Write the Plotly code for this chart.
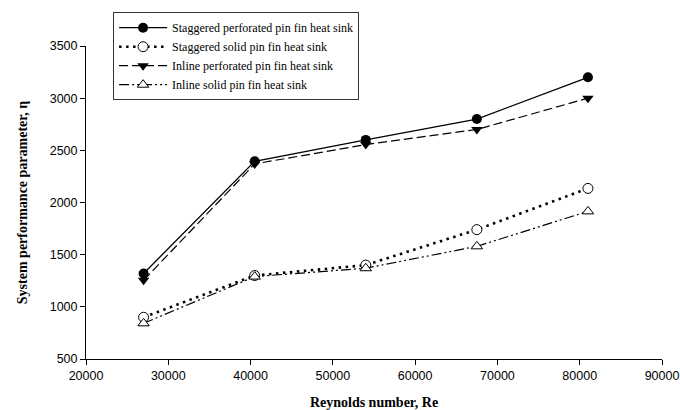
import plotly.graph_objects as go

re_vals = [27000, 40500, 54000, 67500, 81000]
staggered_perforated = [1320, 2395, 2600, 2800, 3200]
staggered_solid = [900, 1300, 1400, 1740, 2135]
inline_perforated = [1255, 2370, 2555, 2700, 3000]
inline_solid = [842, 1290, 1370, 1580, 1915]

names = [
    "Staggered perforated pin fin heat sink",
    "Staggered solid pin fin heat sink",
    "Inline perforated pin fin heat sink",
    "Inline solid pin fin heat sink",
]

fig = go.Figure()
fig.add_trace(go.Scatter(
    x=re_vals, y=staggered_perforated, name=names[0], mode="lines+markers",
    line=dict(color="black", width=1.3, dash="solid"),
    marker=dict(symbol="circle", size=10, color="black"),
))
fig.add_trace(go.Scatter(
    x=re_vals, y=staggered_solid, name=names[1], mode="lines+markers",
    line=dict(color="black", width=2.6, dash="2.5px,4.5px"),
    marker=dict(symbol="circle", size=10, color="white", line=dict(width=1, color="black")),
))
fig.add_trace(go.Scatter(
    x=re_vals, y=inline_perforated, name=names[2], mode="lines+markers",
    line=dict(color="black", width=1.2, dash="9px,4px"),
    marker=dict(symbol="triangle-down", size=10, color="black"),
))
fig.add_trace(go.Scatter(
    x=re_vals, y=inline_solid, name=names[3], mode="lines+markers",
    line=dict(color="black", width=1.2, dash="10px,3px,2px,3px,2px,3px"),
    marker=dict(symbol="triangle-up", size=10, color="white", line=dict(width=1, color="black")),
))

tick_font = dict(family="Liberation Sans, Arial", size=12.5, color="black")
title_font = dict(family="Liberation Serif, Times New Roman", size=14, color="black")

fig.update_layout(
    width=680, height=410,
    margin=dict(l=86, r=18, t=43, b=51),
    paper_bgcolor="white", plot_bgcolor="white",
    showlegend=True,
    legend=dict(
        x=0.047, y=1.108, xanchor="left", yanchor="top",
        bordercolor="#333333", borderwidth=1,
        font=dict(family="Liberation Serif, Times New Roman", size=12, color="black"),
        itemwidth=48, tracegroupgap=0,
        bgcolor="white",
    ),
    xaxis=dict(
        range=[20000, 90000], dtick=10000, tick0=20000, tickformat="d",
        ticklabeloverflow="allow", automargin=False,
        showgrid=False, zeroline=False, showline=True, linecolor="black", linewidth=1,
        ticks="outside", ticklen=5, tickcolor="black",
        tickfont=tick_font,
        title=dict(text="<b>Reynolds number, Re</b>", font=title_font, standoff=16),
    ),
    yaxis=dict(
        range=[500, 3500], dtick=500, tick0=500, tickformat="d",
        ticklabeloverflow="allow", automargin=False,
        showgrid=False, zeroline=False, showline=True, linecolor="black", linewidth=1,
        ticks="outside", ticklen=5, tickcolor="black",
        tickfont=tick_font,
        title=dict(text="<b>System performance parameter, η</b>", font=title_font, standoff=18),
    ),
)

fig.write_html("out.html")
